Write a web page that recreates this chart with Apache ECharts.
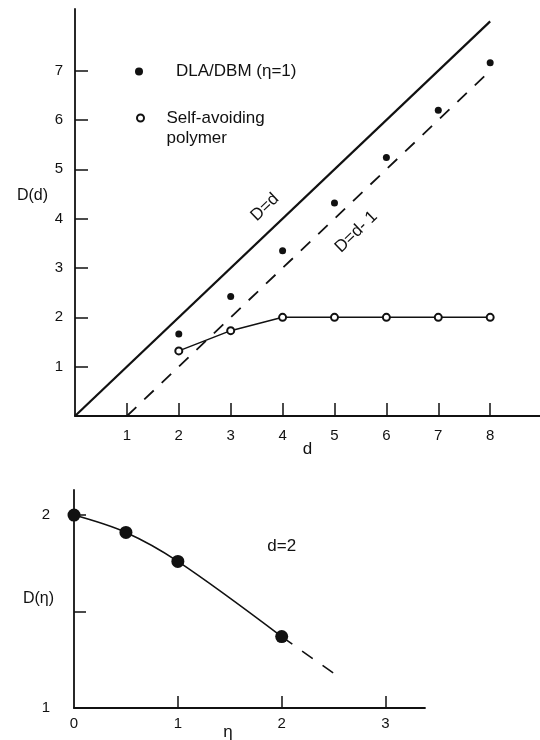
<!DOCTYPE html>
<html>
<head>
<meta charset="utf-8">
<script src="https://cdn.jsdelivr.net/npm/echarts@6/dist/echarts.min.js"></script>
<style>
html, body { margin: 0; padding: 0; background: #fff; }
#chart { width: 540px; height: 740px; }
</style>
</head>
<body>
<div id="chart"></div>
<script>
// top panel: D against embedding dimension d
const dValues = [2, 3, 4, 5, 6, 7, 8];
const dlaDims = [1.66, 2.42, 3.35, 4.32, 5.24, 6.2, 7.16];
const polymerDims = [1.32, 1.73, 2.0, 2.0, 2.0, 2.0, 2.0];
const lineDeqD = [[0, 0], [8, 8]];
const lineDeqDminus1 = [[1, 0], [8, 7]];
const topXTicks = [1, 2, 3, 4, 5, 6, 7, 8];
const topYTicks = [1, 2, 3, 4, 5, 6, 7];

// bottom panel: D against eta, d = 2
const etaValues = [0, 0.5, 1, 2];
const etaDims = [2.0, 1.91, 1.76, 1.37];
const etaDashed = [[2, 1.37], [2.5, 1.18]];
const bottomXTicks = [1, 2, 3];
const bottomXLabels = [0, 1, 2, 3];
const bottomYTicks = [1.5, 2];
const bottomYLabels = [1, 2];

const ink = '#111';
const font = 'Liberation Sans';

const chart = echarts.init(document.getElementById('chart'));

function axisBase(extra) {
    return Object.assign({
        type: 'value',
        splitLine: { show: false },
        nameMoveOverlap: false,
        axisLine: { show: true, onZero: false, lineStyle: { color: ink, width: 1.8 } },
        nameTextStyle: { color: ink, fontSize: 17, fontFamily: font }
    }, extra);
}

const option = {
    animation: false,
    backgroundColor: '#fff',
    grid: [
        { left: 75, top: 9, width: 465, height: 407, outerBoundsMode: 'none' },
        { left: 74, top: 490, width: 351, height: 218, outerBoundsMode: 'none' }
    ],
    legend: [
        {
            data: [{ name: 'DLA/DBM (η=1)', icon: 'circle' }],
            left: 130,
            top: 58,
            itemWidth: 64,
            itemHeight: 8,
            textStyle: { color: ink, fontSize: 17, fontFamily: font }
        },
        {
            // blank first line keeps the marker level with "Self-avoiding"
            data: [{ name: 'Self-avoiding polymer', icon: 'emptyCircle' }],
            formatter: () => '\u00a0\nSelf-avoiding\npolymer',
            left: 131,
            top: 83,
            itemWidth: 42,
            itemHeight: 7,
            textStyle: { color: ink, fontSize: 17, fontFamily: font, lineHeight: 20 }
        }
    ],
    xAxis: [
        axisBase({
            gridIndex: 0, min: 0, max: 8.96,
            name: 'd', nameLocation: 'middle', nameGap: 25,
            axisTick: { inside: true, length: 13, customValues: topXTicks, lineStyle: { color: ink, width: 1.5 } },
            axisLabel: { customValues: topXTicks, margin: 12, color: ink, fontSize: 15, fontFamily: font }
        }),
        axisBase({
            gridIndex: 1, min: 0, max: 3.38,
            name: 'η', nameLocation: 'middle', nameGap: 16,
            nameTextStyle: { color: ink, fontSize: 17, fontFamily: font, padding: [0, 43, 0, 0] },
            axisTick: { inside: true, length: 12, customValues: bottomXTicks, lineStyle: { color: ink, width: 1.5 } },
            axisLabel: { customValues: bottomXLabels, margin: 8, color: ink, fontSize: 15, fontFamily: font }
        })
    ],
    yAxis: [
        axisBase({
            gridIndex: 0, min: 0, max: 8.25,
            name: 'D(d)', nameLocation: 'middle', nameRotate: 0, nameGap: 27,
            nameTextStyle: { color: ink, fontSize: 16, fontFamily: font, verticalAlign: 'bottom', lineHeight: 34 },
            axisTick: { inside: true, length: 13, customValues: topYTicks, lineStyle: { color: ink, width: 1.5 } },
            axisLabel: { customValues: topYTicks, margin: 12, color: ink, fontSize: 15, fontFamily: font }
        }),
        axisBase({
            gridIndex: 1, min: 1, max: 2.13,
            name: 'D(η)', nameLocation: 'middle', nameRotate: 0, nameGap: 20,
            nameTextStyle: { color: ink, fontSize: 16, fontFamily: font },
            axisTick: { inside: true, length: 12, customValues: bottomYTicks, lineStyle: { color: ink, width: 1.5 } },
            axisLabel: { customValues: bottomYLabels, margin: 24, color: ink, fontSize: 15, fontFamily: font }
        })
    ],
    series: [
        {
            name: 'D=d',
            type: 'line',
            xAxisIndex: 0, yAxisIndex: 0,
            data: lineDeqD,
            symbol: 'none',
            lineStyle: { color: ink, width: 2.2 },
            markPoint: {
                symbol: 'circle', symbolSize: 0,
                data: [{ coord: [3.66, 4.23] }],
                label: { show: true, formatter: 'D=d', rotate: 44, color: ink, fontSize: 17, fontFamily: font }
            }
        },
        {
            name: 'D=d-1',
            type: 'line',
            xAxisIndex: 0, yAxisIndex: 0,
            data: lineDeqDminus1,
            symbol: 'none',
            lineStyle: { color: ink, width: 1.8, type: [13, 11] },
            markPoint: {
                symbol: 'circle', symbolSize: 0,
                data: [{ coord: [5.42, 3.73] }],
                label: { show: true, formatter: 'D=d- 1', rotate: 44, color: ink, fontSize: 17, fontFamily: font }
            }
        },
        {
            name: 'Self-avoiding polymer',
            type: 'line',
            xAxisIndex: 0, yAxisIndex: 0,
            data: dValues.map((d, i) => [d, polymerDims[i]]),
            symbol: 'emptyCircle',
            symbolSize: 7,
            lineStyle: { color: ink, width: 1.5 },
            itemStyle: { color: ink, borderWidth: 1.5, opacity: 1 }
        },
        {
            name: 'DLA/DBM (η=1)',
            type: 'scatter',
            xAxisIndex: 0, yAxisIndex: 0,
            data: dValues.map((d, i) => [d, dlaDims[i]]),
            symbolSize: 7,
            itemStyle: { color: ink, opacity: 1 }
        },
        {
            name: 'D(η)',
            type: 'line',
            xAxisIndex: 1, yAxisIndex: 1,
            data: etaValues.map((e, i) => [e, etaDims[i]]),
            smooth: 0.35,
            symbol: 'circle',
            symbolSize: 13,
            lineStyle: { color: ink, width: 1.6 },
            itemStyle: { color: ink, opacity: 1 },
            markPoint: {
                symbol: 'circle', symbolSize: 0,
                data: [{ coord: [2.0, 1.84] }],
                label: { show: true, formatter: 'd=2', color: ink, fontSize: 17, fontFamily: font }
            }
        },
        {
            name: 'extrapolation',
            type: 'line',
            xAxisIndex: 1, yAxisIndex: 1,
            data: etaDashed,
            symbol: 'none',
            z: 1,
            lineStyle: { color: ink, width: 1.6, type: [13, 12] }
        }
    ]
};

chart.setOption(option);
</script>
</body>
</html>
